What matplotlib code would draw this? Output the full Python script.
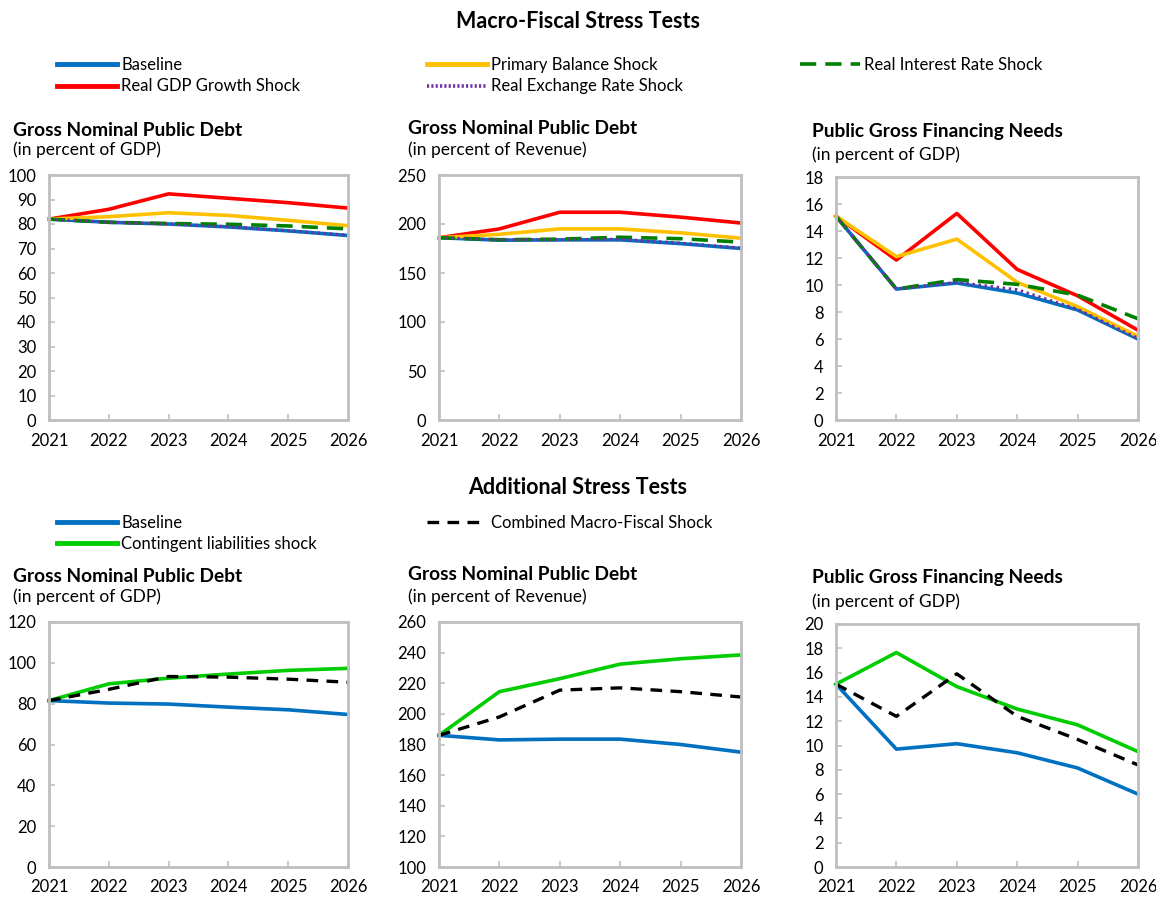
"""Macro-fiscal and additional stress test panels for debt and gross financing needs"""

import matplotlib
matplotlib.use('Agg')
import matplotlib.pyplot as plt
from matplotlib.lines import Line2D

plt.rcParams['font.family'] = ['Lato', 'DejaVu Sans']

YEARS = [2021, 2022, 2023, 2024, 2025, 2026]

# Macro-fiscal shocks: debt in percent of GDP
debt_gdp_baseline = [82.0, 80.7, 80.0, 78.8, 77.2, 75.3]
debt_gdp_growth = [82.0, 86.0, 92.3, 90.5, 88.7, 86.5]
debt_gdp_primary = [82.0, 83.0, 84.6, 83.5, 81.5, 79.3]
debt_gdp_interest = [82.0, 80.7, 80.2, 79.9, 79.2, 78.0]
debt_gdp_exchange = [82.0, 80.7, 80.0, 78.9, 77.3, 75.4]

# Macro-fiscal shocks: debt in percent of revenue
debt_rev_baseline = [186.0, 183.5, 183.8, 183.8, 180.0, 175.0]
debt_rev_growth = [186.0, 195.0, 212.0, 212.0, 207.0, 201.0]
debt_rev_primary = [186.0, 189.5, 195.0, 195.0, 191.0, 185.5]
debt_rev_interest = [186.0, 184.0, 184.5, 186.5, 185.0, 181.5]
debt_rev_exchange = [186.0, 184.0, 184.0, 184.5, 180.5, 175.5]

# Macro-fiscal shocks: gross financing needs in percent of GDP
gfn_baseline = [15.1, 9.7, 10.15, 9.4, 8.15, 6.0]
gfn_growth = [15.1, 11.85, 15.3, 11.15, 9.2, 6.65]
gfn_primary = [15.1, 12.1, 13.4, 10.2, 8.4, 6.2]
gfn_interest = [15.1, 9.7, 10.4, 10.05, 9.25, 7.5]
gfn_exchange = [15.1, 9.7, 10.2, 9.65, 8.2, 6.05]

# Additional shocks
add_debt_gdp_baseline = [81.5, 80.3, 79.8, 78.3, 77.0, 74.7]
add_debt_gdp_contingent = [81.5, 89.7, 92.5, 94.5, 96.3, 97.3]
add_debt_gdp_combined = [81.5, 87.0, 93.3, 93.0, 92.0, 90.5]

add_debt_rev_baseline = [186.0, 183.0, 183.5, 183.5, 180.0, 175.0]
add_debt_rev_contingent = [186.0, 214.5, 223.0, 232.5, 236.0, 238.5]
add_debt_rev_combined = [186.0, 198.0, 215.5, 217.0, 214.5, 211.0]

add_gfn_baseline = [15.05, 9.7, 10.15, 9.4, 8.15, 6.0]
add_gfn_contingent = [15.05, 17.65, 14.85, 13.0, 11.7, 9.5]
add_gfn_combined = [15.05, 12.4, 15.9, 12.4, 10.5, 8.4]

BLUE = '#0070C0'
RED = '#FF0000'
YELLOW = '#FFC000'
GREEN = '#008000'
PURPLE = '#7030A0'
LIGHT_GREEN = '#00CC00'
GRAY = '#BFBFBF'

STYLES = {
    'Baseline': dict(color=BLUE, lw=2.6),
    'Real GDP Growth Shock': dict(color=RED, lw=2.6),
    'Primary Balance Shock': dict(color=YELLOW, lw=2.6),
    'Real Exchange Rate Shock': dict(color=PURPLE, lw=2.2, dashes=(0.8, 1.2)),
    'Real Interest Rate Shock': dict(color=GREEN, lw=2.6, dashes=(4.5, 2.5)),
    'Contingent liabilities shock': dict(color=LIGHT_GREEN, lw=2.6),
    'Combined Macro-Fiscal Shock': dict(color='black', lw=2.4, dashes=(3.5, 2.5)),
}

W, H = 1156, 899
fig = plt.figure(figsize=(W / 100, H / 100), dpi=100)


def px_axes(left, top, right, bottom):
    """Создает оси по пиксельным координатам окна"""
    return fig.add_axes([left / W, 1 - bottom / H, (right - left) / W, (bottom - top) / H])


def style_axes(ax, ylim, ystep):
    ax.set_xlim(YEARS[0], YEARS[-1])
    ax.set_ylim(*ylim)
    ax.set_xticks(YEARS)
    ax.set_yticks(range(ylim[0], ylim[1] + 1, ystep))
    for spine in ax.spines.values():
        spine.set_color(GRAY)
        spine.set_linewidth(2)
    ax.tick_params(axis='both', direction='in', length=4, width=1.2, color=GRAY,
                   labelsize=12, labelcolor='black')
    ax.tick_params(axis='x', pad=9)
    ax.tick_params(axis='y', pad=9)


def headline(x, y, title, subtitle, sub_gap=20):
    fig.text(x / W, 1 - y / H, title, fontsize=13.8, fontweight='bold', va='center')
    fig.text(x / W, 1 - (y + sub_gap) / H, subtitle, fontsize=12.5, va='center')


def draw(ax, series):
    for name, values in series:
        ax.plot(YEARS, values, label=name, clip_on=False, **STYLES[name])


# Верхний ряд - макрофискальные шоки
fig.text(0.5, 1 - 21 / H, 'Macro-Fiscal Stress Tests', ha='center', va='center',
         fontsize=15.5, fontweight='bold')

ax1 = px_axes(49, 175, 348, 420)
draw(ax1, [('Baseline', debt_gdp_baseline), ('Real GDP Growth Shock', debt_gdp_growth),
           ('Primary Balance Shock', debt_gdp_primary), ('Real Interest Rate Shock', debt_gdp_interest),
           ('Real Exchange Rate Shock', debt_gdp_exchange)])
style_axes(ax1, (0, 100), 10)
headline(13, 130, 'Gross Nominal Public Debt', '(in percent of GDP)')

ax2 = px_axes(439, 175, 741, 420)
draw(ax2, [('Baseline', debt_rev_baseline), ('Real GDP Growth Shock', debt_rev_growth),
           ('Primary Balance Shock', debt_rev_primary), ('Real Interest Rate Shock', debt_rev_interest),
           ('Real Exchange Rate Shock', debt_rev_exchange)])
style_axes(ax2, (0, 250), 50)
headline(408, 128, 'Gross Nominal Public Debt', '(in percent of Revenue)', 22)

ax3 = px_axes(836, 177, 1138, 420)
draw(ax3, [('Baseline', gfn_baseline), ('Real GDP Growth Shock', gfn_growth),
           ('Primary Balance Shock', gfn_primary), ('Real Interest Rate Shock', gfn_interest),
           ('Real Exchange Rate Shock', gfn_exchange)])
style_axes(ax3, (0, 18), 2)
headline(812, 131, 'Public Gross Financing Needs', '(in percent of GDP)', 24)

handles = {name: Line2D([], [], **STYLES[name]) for name in STYLES}
handles['Baseline'] = Line2D([], [], color=BLUE, lw=3.5)
handles['Real GDP Growth Shock'] = Line2D([], [], color=RED, lw=3.5)
handles['Primary Balance Shock'] = Line2D([], [], color=YELLOW, lw=3.5)
handles['Contingent liabilities shock'] = Line2D([], [], color=LIGHT_GREEN, lw=3.5)
handles['Real Exchange Rate Shock'] = Line2D([], [], color=PURPLE, lw=2.6, dashes=(0.6, 0.6))
for names, x, y in [(['Baseline', 'Real GDP Growth Shock'], 57, 57),
                    (['Primary Balance Shock', 'Real Exchange Rate Shock'], 427, 57),
                    (['Real Interest Rate Shock'], 800, 57),
                    (['Baseline', 'Contingent liabilities shock'], 57, 515),
                    (['Combined Macro-Fiscal Shock'], 427, 515)]:
    fig.legend([handles[n] for n in names], names, loc='upper left',
               bbox_to_anchor=(x / W, 1 - y / H), frameon=False, fontsize=12,
               handlelength=3.6, handletextpad=0.25, labelspacing=0.32,
               borderaxespad=0, borderpad=0)

# Нижний ряд - дополнительные шоки
fig.text(0.5, 1 - 487 / H, 'Additional Stress Tests', ha='center', va='center',
         fontsize=15.5, fontweight='bold')

ax4 = px_axes(49, 622, 348, 867)
draw(ax4, [('Baseline', add_debt_gdp_baseline), ('Contingent liabilities shock', add_debt_gdp_contingent),
           ('Combined Macro-Fiscal Shock', add_debt_gdp_combined)])
style_axes(ax4, (0, 120), 20)
headline(13, 577, 'Gross Nominal Public Debt', '(in percent of GDP)')

ax5 = px_axes(439, 622, 741, 867)
draw(ax5, [('Baseline', add_debt_rev_baseline), ('Contingent liabilities shock', add_debt_rev_contingent),
           ('Combined Macro-Fiscal Shock', add_debt_rev_combined)])
style_axes(ax5, (100, 260), 20)
headline(408, 575, 'Gross Nominal Public Debt', '(in percent of Revenue)', 22)

ax6 = px_axes(836, 624, 1138, 867)
draw(ax6, [('Baseline', add_gfn_baseline), ('Contingent liabilities shock', add_gfn_contingent),
           ('Combined Macro-Fiscal Shock', add_gfn_combined)])
style_axes(ax6, (0, 20), 2)
headline(812, 578, 'Public Gross Financing Needs', '(in percent of GDP)', 24)

fig.savefig('out.png', dpi=100)
